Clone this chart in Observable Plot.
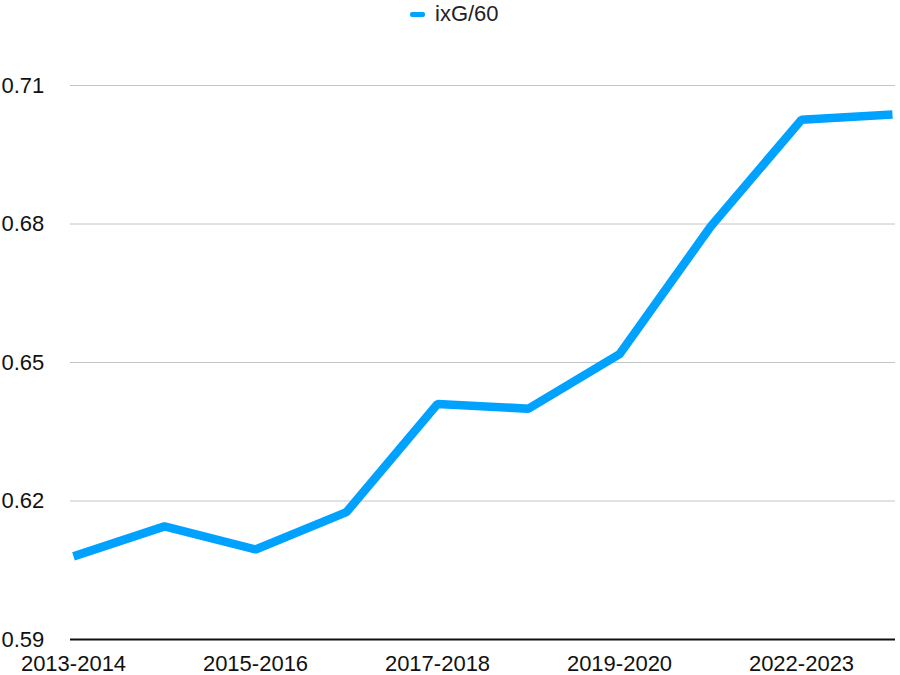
<!DOCTYPE html>
<html>
<head>
<meta charset="utf-8">
<script src="https://cdn.jsdelivr.net/npm/d3@7"></script>
<script src="https://cdn.jsdelivr.net/npm/@observablehq/plot@0.6"></script>
<style>
  html, body { margin: 0; padding: 0; background: #fff; }
  body { width: 900px; height: 675px; overflow: hidden; font-family: "Liberation Sans", Arial, Helvetica, sans-serif; }
  #legend { height: 30px; position: relative; font-size: 22px; color: #222; }
  #legend .sw { position: absolute; left: 410px; top: 12px; width: 15px; height: 5px; background: #00A2FF; border-radius: 2px; }
  #legend .lb { position: absolute; left: 435px; top: 1px; }
  #chart svg { display: block; }
</style>
</head>
<body>
<div id="legend"><span class="sw"></span><span class="lb">ixG/60</span></div>
<div id="chart"></div>
<script>
const seasons = ["2013-2014","2014-2015","2015-2016","2016-2017","2017-2018","2018-2019","2019-2020","2021-2022","2022-2023","2023-2024"];
const ixg60 = [0.608, 0.6145, 0.6095, 0.6176, 0.641, 0.640, 0.6518, 0.6794, 0.7026, 0.7037];
const yTicks = [0.59, 0.62, 0.65, 0.68, 0.71];
const xTickLabels = ["2013-2014","2015-2016","2017-2018","2019-2020","2022-2023"];

const data = seasons.map((s, i) => ({season: s, value: ixg60[i]}));

const chart = Plot.plot({
  width: 900,
  height: 645,
  marginTop: 55,
  marginBottom: 36,
  marginLeft: 70,
  marginRight: 5,
  style: {fontSize: "22px", fontFamily: "Liberation Sans, Arial, sans-serif", color: "#111", background: "#fff"},
  x: {type: "point", domain: seasons, padding: 0},
  y: {domain: [0.59, 0.71]},
  marks: [
    Plot.ruleY(yTicks.filter(d => d !== 0.59), {stroke: "#c4c4c4", strokeWidth: 1}),
    Plot.axisY({ticks: yTicks, tickSize: 0, tickPadding: 0, textAnchor: "start", dx: -69, tickFormat: d => d.toFixed(2), label: null}),
    Plot.axisX({ticks: xTickLabels, tickSize: 0, tickPadding: 16, label: null}),
    Plot.line(data, {x: "season", y: "value", stroke: "#00A2FF", strokeWidth: 8.5, strokeLinejoin: "miter", strokeLinecap: "butt"}),
    Plot.ruleY([0.59], {stroke: "#111", strokeWidth: 2})
  ]
});
document.getElementById("chart").appendChild(chart);
</script>
</body>
</html>
